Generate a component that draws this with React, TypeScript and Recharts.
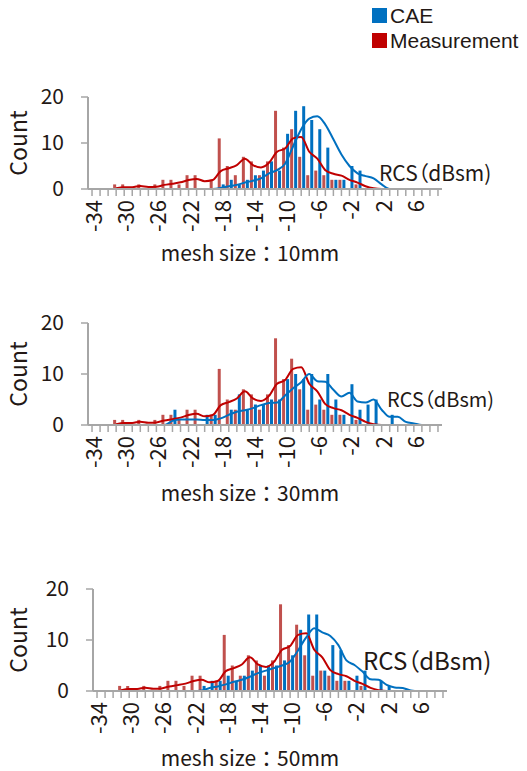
import {ComposedChart, Bar, Line, XAxis, YAxis} from 'recharts';

// RCS bins (dBsm), one category per dB
const rcsBins = [
  -34, -33, -32, -31, -30, -29, -28, -27, -26, -25, -24, -23, -22, -21, -20,
  -19, -18, -17, -16, -15, -14, -13, -12, -11, -10, -9, -8, -7, -6, -5, -4,
  -3, -2, -1, 0, 1, 2, 3, 4, 5, 6, 7, 8, 9,
];
const yTicks = [0, 10, 20];

// measurement is the same in every panel
const measuredCounts = [
  0, 0, 0, 1, 1, 0, 1, 0, 1, 2, 2, 1, 3, 3, 0,
  2, 11, 5, 3, 7, 6, 3, 6, 17, 9, 13, 7, 3, 4, 3, 2,
  2, 0, 1, 0, 0, 0, 0, 0, 0, 0, 0, 0, 0,
];
const measuredTrend = [
  null, null, null, 0.15, 0.4, 0.4, 0.65, 0.45, 0.5, 0.9, 1.15, 1.45, 1.95, 2.2, 1.7,
  1.95, 3.9, 4.5, 5.2, 6.6, 5.2, 4.7, 5.7, 8.1, 8.8, 11.0, 11.3, 8.1, 6.6, 4.1, 3.3,
  2.9, 2.0, 1.4, 0.6, 0.15, 0, 0, null, null, null, null, null, null,
];

const cae10Counts = [
  0, 0, 0, 0, 0, 0, 0, 0, 0, 0, 0, 0, 0, 0, 0,
  0, 1, 2, 1, 2, 3, 4, 6, 4, 12, 17, 18, 15, 13, 9, 2,
  2, 5, 4, 0, 0, 0, 0, 0, 0, 0, 0, 0, 0,
];
const cae10Trend = [
  null, null, null, 0, 0, 0, 0, 0, 0, 0, 0, 0, 0, 0, 0,
  0, 0.2, 0.6, 0.9, 1.4, 1.8, 2.3, 3.4, 4.1, 5.5, 9.3, 13, 15.3, 15.8, 14, 10.8,
  7.5, 5.0, 3.4, 2.8, 2.3, 1.0, 0, 0, 0, 0, 0, 0, 0,
];

const cae30Counts = [
  0, 0, 0, 0, 0, 0, 0, 0, 0, 0, 3, 0, 0, 0, 2,
  2, 0, 3, 6, 3, 4, 4, 5, 5, 9, 10, 9, 10, 5, 10, 5,
  2, 8, 3, 4, 5, 0, 2, 0, 0, 0, 0, 0, 0,
];
const cae30Trend = [
  null, null, null, 0, 0, 0, 0, 0, 0, 0, 0.8, 1.1, 1.1, 1.1, 1.0,
  1.0, 1.3, 2.0, 2.6, 2.9, 3.3, 3.9, 4.3, 4.4, 5.8, 7.2, 8.4, 10, 8.6, 8.5, 6.9,
  5.6, 6.3, 4.6, 4.4, 5.0, 3.0, 1.6, 1.6, 0.6, 0.3, 0, 0, 0,
];

const cae50Counts = [
  0, 0, 0, 0, 0, 0, 0, 0, 0, 0, 0, 0, 0, 1, 2,
  2, 3, 2, 3, 4, 5, 5, 5, 6, 7, 12, 15, 15, 4, 9, 8,
  2, 3, 4, 0, 2, 1, 0, 0, 0, 0, 0, 0, 0,
];
const cae50Trend = [
  null, null, null, 0, 0, 0, 0, 0, 0, 0, 0, 0, 0, 0.1, 0.6,
  0.9, 1.3, 1.8, 2.2, 2.8, 3.5, 4.0, 4.5, 5.0, 5.8, 8, 10.5, 12.3, 11.5, 10.8, 9.0,
  6.0, 5.1, 3.8, 2.3, 2.2, 1.2, 0.7, 0.6, 0.1, 0, 0, 0, 0,
];

const INK = '#231815';
const AXIS = '#a6a6a6';
const BLUE = '#0070c0';
const RED = '#c00000';
const RED_BAR = '#c0504d';
const FONT = '"Noto Sans CJK JP", "Noto Sans", sans-serif';

const RcsTick = (props: any) => {
  const {x, y, index, payload} = props;
  return (
    <g>
      <line x1={x} y1={y} x2={x} y2={y + 7} stroke={AXIS} strokeWidth={1.5} />
      {index % 4 === 0 && (
        <text
          x={x}
          y={y + 11}
          transform={`rotate(-90 ${x} ${y + 11})`}
          textAnchor="end"
          dominantBaseline="central"
          fontSize={22}
          fill={INK}
        >
          {payload.value}
        </text>
      )}
    </g>
  );
};

const panels = [
  {mesh: '10mm', counts: cae10Counts, trend: cae10Trend, top: 80, left: 88, plotTop: 17, plotH: 92, rcsX: 379, rcsY: 172, rcsSize: 21, titleY: 252},
  {mesh: '30mm', counts: cae30Counts, trend: cae30Trend, top: 306, left: 88, plotTop: 17, plotH: 102, rcsX: 387, rcsY: 399, rcsSize: 20, titleY: 492},
  {mesh: '50mm', counts: cae50Counts, trend: cae50Trend, top: 572, left: 93, plotTop: 17, plotH: 102, rcsX: 363, rcsY: 660, rcsSize: 24, titleY: 757},
];

const Panel = ({p}: {p: (typeof panels)[number]}) => {
  const data = rcsBins.map((rcs, i) => ({
    rcs,
    measured: measuredCounts[i],
    cae: p.counts[i],
    measuredTrend: measuredTrend[i],
    caeTrend: p.trend[i],
  }));
  const plotW = 354;
  const height = 200;
  return (
    <div style={{position: 'absolute', left: 0, top: p.top, width: 527, height}}>
      <ComposedChart
        width={527}
        height={height}
        data={data}
        margin={{top: p.plotTop, left: p.left - 60, right: 527 - p.left - plotW, bottom: height - p.plotTop - p.plotH - 60}}
        barSize={3}
        barGap={1}
      >
        <XAxis
          dataKey="rcs"
          interval={0}
          height={60}
          tick={<RcsTick />}
          tickLine={false}
          tickSize={0}
          tickMargin={0}
          axisLine={{stroke: AXIS, strokeWidth: 2}}
        />
        <YAxis
          domain={[0, 20]}
          ticks={yTicks}
          interval={0}
          width={60}
          tick={{fontSize: 21, fill: INK}}
          tickSize={7}
          tickMargin={17}
          tickLine={{stroke: AXIS, strokeWidth: 1.5}}
          axisLine={{stroke: AXIS, strokeWidth: 2}}
        />
        <Bar dataKey="measured" fill={RED_BAR} isAnimationActive={false} />
        <Bar dataKey="cae" fill={BLUE} isAnimationActive={false} />
        <Line dataKey="measuredTrend" type="monotone" stroke={RED} strokeWidth={2} dot={false} isAnimationActive={false} />
        <Line dataKey="caeTrend" type="monotone" stroke={BLUE} strokeWidth={2} dot={false} isAnimationActive={false} />
      </ComposedChart>
      <div style={{position: 'absolute', left: 17, top: p.plotTop + p.plotH / 2, transform: 'translate(-50%, -50%) rotate(-90deg)', fontSize: 23, color: INK, lineHeight: 1, whiteSpace: 'nowrap'}}>
        Count
      </div>
      <div style={{position: 'absolute', left: p.rcsX, top: p.rcsY - p.top, transform: 'translateY(-50%)', fontSize: p.rcsSize, color: INK, lineHeight: 1, whiteSpace: 'nowrap', fontFeatureSettings: '"palt"'}}>
        RCS（dBsm)
      </div>
      <div style={{position: 'absolute', left: 250, top: p.titleY - p.top, transform: 'translate(-50%, -50%)', fontSize: 21, color: INK, lineHeight: 1, whiteSpace: 'nowrap'}}>
        mesh size：{p.mesh}
      </div>
    </div>
  );
};

export default function App() {
  return (
    <div style={{position: 'absolute', left: 0, top: 0, width: 527, height: 771, background: '#fff', fontFamily: FONT}}>
      <div style={{position: 'absolute', left: 372, top: 5, fontSize: 21, color: INK, lineHeight: '21px', fontFamily: '"Liberation Sans", Arial, sans-serif'}}>
        <div style={{display: 'flex', alignItems: 'center', height: 21, marginBottom: 4}}>
          <span style={{width: 15, height: 15, background: BLUE, display: 'inline-block', marginRight: 3}} />
          <span>CAE</span>
        </div>
        <div style={{display: 'flex', alignItems: 'center', height: 21}}>
          <span style={{width: 15, height: 15, background: RED, display: 'inline-block', marginRight: 3}} />
          <span>Measurement</span>
        </div>
      </div>
      {panels.map((p) => (
        <Panel key={p.mesh} p={p} />
      ))}
    </div>
  );
}
